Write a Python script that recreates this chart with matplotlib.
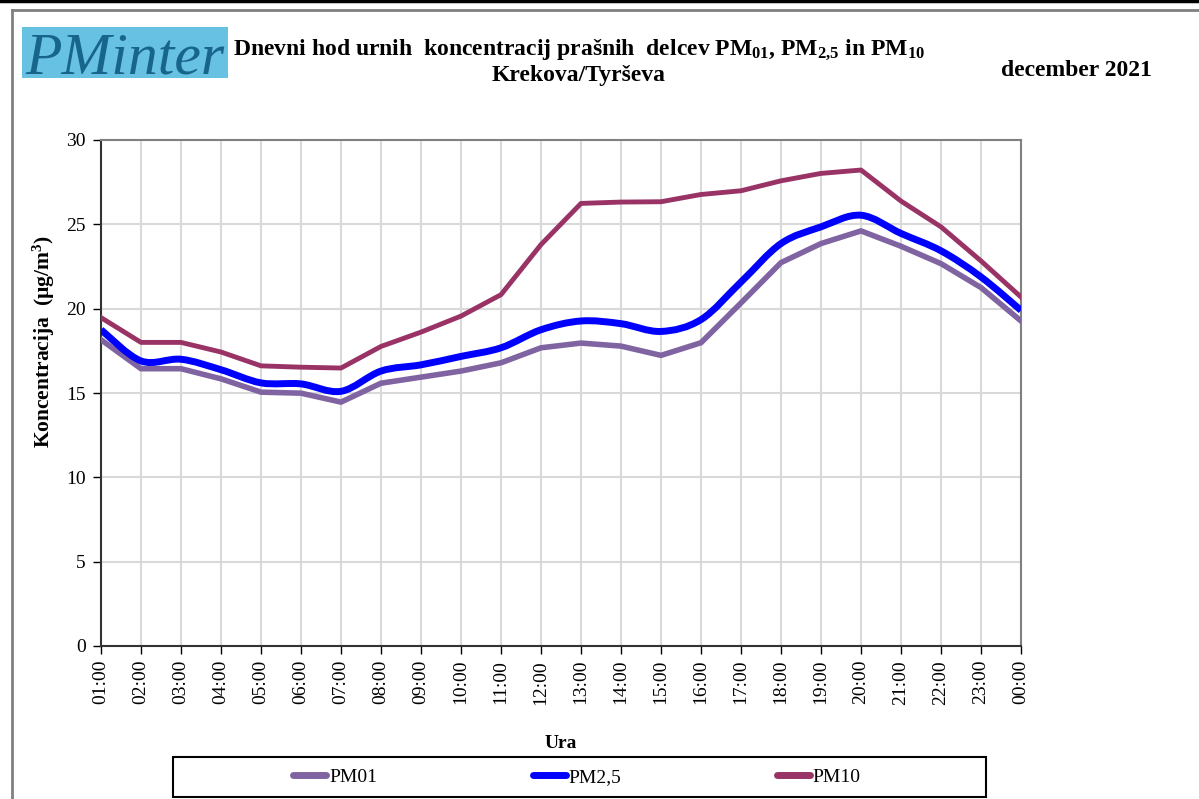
import numpy as np
import matplotlib
matplotlib.use("Agg")
import matplotlib.pyplot as plt
from matplotlib.path import Path
from matplotlib.patches import PathPatch, Rectangle
from matplotlib.lines import Line2D

plt.rcParams['font.family'] = ['Liberation Serif', 'DejaVu Serif']
plt.rcParams['mathtext.fontset'] = 'custom'
plt.rcParams['mathtext.rm'] = 'Liberation Serif'
plt.rcParams['mathtext.bf'] = 'Liberation Serif:bold'
plt.rcParams['mathtext.it'] = 'Liberation Serif:italic'

hours = ["01:00", "02:00", "03:00", "04:00", "05:00", "06:00", "07:00", "08:00",
         "09:00", "10:00", "11:00", "12:00", "13:00", "14:00", "15:00", "16:00",
         "17:00", "18:00", "19:00", "20:00", "21:00", "22:00", "23:00", "00:00"]
pm01 = [18.16, 16.44, 16.44, 15.84, 15.05, 14.99, 14.46, 15.58, 15.94, 16.30, 16.79, 17.68,
        17.96, 17.78, 17.23, 17.98, 20.34, 22.73, 23.86, 24.61, 23.70, 22.67, 21.25, 19.27]
pm25 = [18.75, 16.90, 17.00, 16.38, 15.60, 15.54, 15.10, 16.30, 16.67, 17.17, 17.68, 18.75,
        19.27, 19.11, 18.65, 19.35, 21.58, 23.86, 24.85, 25.54, 24.46, 23.43, 21.88, 19.90]
pm10 = [19.47, 18.00, 18.00, 17.43, 16.61, 16.53, 16.48, 17.76, 18.61, 19.56, 20.83, 23.80,
        26.24, 26.32, 26.34, 26.77, 26.99, 27.58, 28.02, 28.22, 26.38, 24.85, 22.83, 20.69]
series_names = ["PM01", "PM2,5", "PM10"]
colors = ["#8064A2", "#0000FF", "#993366"]
yticks = [0, 5, 10, 15, 20, 25, 30]

W, H = 1199, 799
fig = plt.figure(figsize=(W / 100, H / 100), dpi=100)


def fx(px):
    return px / W


def fy(py):
    return 1 - py / H


# page frame
fig.add_artist(Line2D([0, 1], [fy(1), fy(1)], transform=fig.transFigure, color='black', lw=2.5))
fig.add_artist(Line2D([fx(12), 1], [fy(10), fy(10)], transform=fig.transFigure, color='#808080', lw=2))
fig.add_artist(Line2D([fx(12), fx(12)], [0, fy(10)], transform=fig.transFigure, color='#808080', lw=2))

# logo
fig.add_artist(Rectangle((fx(22), fy(78)), 206 / W, 51 / H, transform=fig.transFigure,
                         facecolor='#67C1E3', edgecolor='none'))
fig.text(fx(25), fy(74), "PMinter", fontsize=43, style='italic', color='#17648C',
         ha='left', va='baseline', family=['Liberation Serif'])

# titles
fig.text(fx(579), fy(50),
         r"Dnevni hod urnih  koncentracij prašnih  delcev PM$_{\mathbf{01}}$, PM$_{\mathbf{2{,}5}}$ in PM$_{\mathbf{10}}$",
         fontsize=17, fontweight='bold', ha='center', va='center')
fig.text(fx(579), fy(76), "Krekova/Tyrševa", fontsize=17, fontweight='bold', ha='center', va='center')
fig.text(fx(1076), fy(70), "december 2021", fontsize=17, fontweight='bold', ha='center', va='center')

ax = fig.add_axes([fx(101), fy(646), 920 / W, 506 / H])
x = np.arange(len(hours))


def smooth_path(xs, ys):
    xs = np.asarray(xs, float)
    ys = np.asarray(ys, float)
    n = len(xs)
    verts = [(xs[0], ys[0])]
    codes = [Path.MOVETO]
    for i in range(n - 1):
        p0 = np.array([xs[max(i - 1, 0)], ys[max(i - 1, 0)]])
        p1 = np.array([xs[i], ys[i]])
        p2 = np.array([xs[i + 1], ys[i + 1]])
        p3 = np.array([xs[min(i + 2, n - 1)], ys[min(i + 2, n - 1)]])
        c1 = p1 + (p2 - p0) / 6.0
        c2 = p2 - (p3 - p1) / 6.0
        verts += [tuple(c1), tuple(c2), tuple(p2)]
        codes += [Path.CURVE4] * 3
    return Path(verts, codes)


ax.plot(x, pm01, color=colors[0], lw=4, solid_joinstyle='round', zorder=3)
ax.plot(x, pm10, color=colors[2], lw=3.5, solid_joinstyle='round', zorder=3)
ax.add_patch(PathPatch(smooth_path(x, pm25), facecolor='none', edgecolor=colors[1], lw=5, zorder=4))

ax.set_xlim(0, len(hours) - 1)
ax.set_ylim(0, 30)
ax.set_yticks(yticks)
ax.set_xticks(x)
ax.set_xticklabels(hours, rotation=90, fontsize=14)
ax.tick_params(axis='y', labelsize=14, direction='out', length=6, width=1, colors='black', pad=5)
ax.tick_params(axis='x', direction='out', length=6, width=1, pad=4)
ax.grid(True, color='#D9D9D9', lw=1.5)
ax.set_axisbelow(True)
for s in ['top', 'right']:
    ax.spines[s].set_color('#808080')
    ax.spines[s].set_linewidth(1.5)
for s in ['left', 'bottom']:
    ax.spines[s].set_color('#333333')
    ax.spines[s].set_linewidth(1.5)

ax.set_ylabel(r"Koncentracija  (µg/m$^{\mathbf{3}}$)", fontsize=15.5, fontweight='bold')
ax.yaxis.set_label_coords(-44 / 920, (646 - 342) / 506)
ax.set_xlabel("Ura", fontsize=14, fontweight='bold')
ax.xaxis.set_label_coords(0.5, -(735 - 646) / 506)

# legend box
fig.add_artist(Rectangle((fx(173), fy(797)), 813 / W, 40 / H, transform=fig.transFigure,
                         facecolor='white', edgecolor='black', lw=1.5))
handles = [Line2D([0], [0], color=c, lw=5, solid_capstyle='round') for c in colors]
leg = fig.legend(handles, series_names, loc='center', ncol=3,
                 bbox_to_anchor=(fx(577), fy(777)), frameon=False, fontsize=14,
                 handlelength=1.7, handletextpad=0.15, columnspacing=8.0,
                 borderaxespad=0.0, borderpad=0.0)

fig.savefig("out.png", dpi=100)
